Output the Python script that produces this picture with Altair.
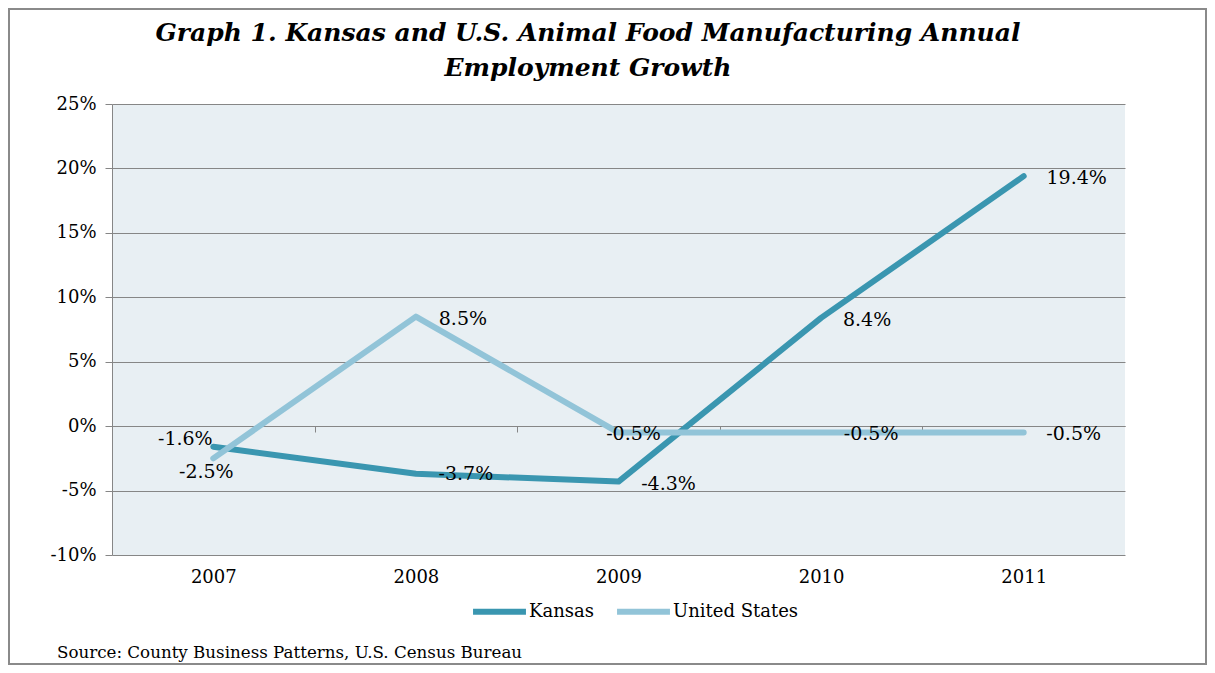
import altair as alt
import pandas as pd

years = ["2007", "2008", "2009", "2010", "2011"]
kansas = [-1.6, -3.7, -4.3, 8.4, 19.4]
united_states = [-2.5, 8.5, -0.5, -0.5, -0.5]
series_names = ["Kansas", "United States"]
series_colors = ["#3A96B0", "#92C4D8"]
y_ticks = [-0.10, -0.05, 0.0, 0.05, 0.10, 0.15, 0.20, 0.25]
title_lines = ["Graph 1. Kansas and U.S. Animal Food Manufacturing Annual", "Employment Growth"]
source_text = "Source: County Business Patterns, U.S. Census Bureau"

FONT = "DejaVu Serif"
GRAY = "#868686"

rows = []
for name, vals in zip(series_names, [kansas, united_states]):
    for yr, v in zip(years, vals):
        rows.append({"year": yr, "series": name, "value": v / 100.0, "label": f"{v:.1f}%"})
df = pd.DataFrame(rows)

W, H = 1013, 451
half_step = W / 5 / 2

x_enc = alt.X("year:N", sort=years,
              scale=alt.Scale(type="point", padding=0.5),
              axis=alt.Axis(title=None, labelAngle=0, offset=-129, tickOffset=-half_step,
                            labelOffset=half_step, tickSize=6, labelPadding=136,
                            domainColor=GRAY, tickColor=GRAY, labelFont=FONT, labelFontSize=18,
                            labelColor="black", grid=False))
y_enc = alt.Y("value:Q",
              scale=alt.Scale(domain=[-0.10, 0.25], nice=False),
              axis=alt.Axis(title=None, values=y_ticks, format=".0%",
                            labelExpr="replace(datum.label, '\u2212', '-')",
                            labelFont=FONT, labelFontSize=18, labelColor="black",
                            tickColor=GRAY, tickSize=7, domainColor=GRAY, gridColor=GRAY,
                            labelPadding=9))

lines = alt.Chart(df).mark_line(strokeWidth=6, strokeCap="round", strokeJoin="round").encode(
    x=x_enc,
    y=y_enc,
    color=alt.Color("series:N", sort=series_names,
                    scale=alt.Scale(domain=series_names, range=series_colors),
                    legend=alt.Legend(orient="none", legendX=358, legendY=478, direction="horizontal",
                                      title=None, symbolType="stroke", symbolStrokeWidth=6,
                                      symbolSize=2800, labelFont=FONT, labelFontSize=18,
                                      labelColor="black", columnPadding=11, labelOffset=0)),
    order=alt.Order("series:N"),
)

label_offsets = {
    ("Kansas", "2007"): (-28, -8),
    ("Kansas", "2008"): (50, 0),
    ("Kansas", "2009"): (50, 2),
    ("Kansas", "2010"): (46, 2),
    ("Kansas", "2011"): (53, 2),
    ("United States", "2007"): (-7, 14),
    ("United States", "2008"): (47, 2),
    ("United States", "2009"): (15, 1),
    ("United States", "2010"): (50, 1),
    ("United States", "2011"): (50, 1),
}

label_layers = []
for (s, yr), (dx, dy) in label_offsets.items():
    label_layers.append(
        alt.Chart(df).transform_filter((alt.datum.series == s) & (alt.datum.year == yr))
        .mark_text(dx=dx, dy=dy, font=FONT, fontSize=19, color="black")
        .encode(x=alt.X("year:N", sort=years), y="value:Q", text="label:N")
    )

title_layers = []
for line, ypos in zip(title_lines, [-71, -36]):
    title_layers.append(
        alt.Chart(pd.DataFrame({"t": [line]})).mark_text(
            align="center", baseline="middle", font=FONT, fontSize=25,
            fontStyle="italic", fontWeight="bold", color="black"
        ).encode(x=alt.value(476), y=alt.value(ypos), text="t:N")
    )

source = alt.Chart(pd.DataFrame({"t": [source_text]})).mark_text(
    align="left", baseline="middle", font=FONT, fontSize=16.7, color="black"
).encode(x=alt.value(-55), y=alt.value(549), text="t:N")

frame = alt.Chart(pd.DataFrame({"a": [0]})).mark_rect(
    fillOpacity=0, stroke="#8a8a8a", strokeWidth=2
).encode(x=alt.value(-103), x2=alt.value(1094), y=alt.value(-95), y2=alt.value(560))

chart = alt.layer(frame, lines, *label_layers, *title_layers, source).properties(
    width=W, height=H,
    autosize=alt.AutoSizeParams(type="none"),
    padding={"left": 104, "top": 96, "right": 82, "bottom": 110},
    background="white",
).configure_view(stroke=None, fill="#E8EFF3")

chart.save("out.html", embed_options={"renderer": "svg", "actions": False})
